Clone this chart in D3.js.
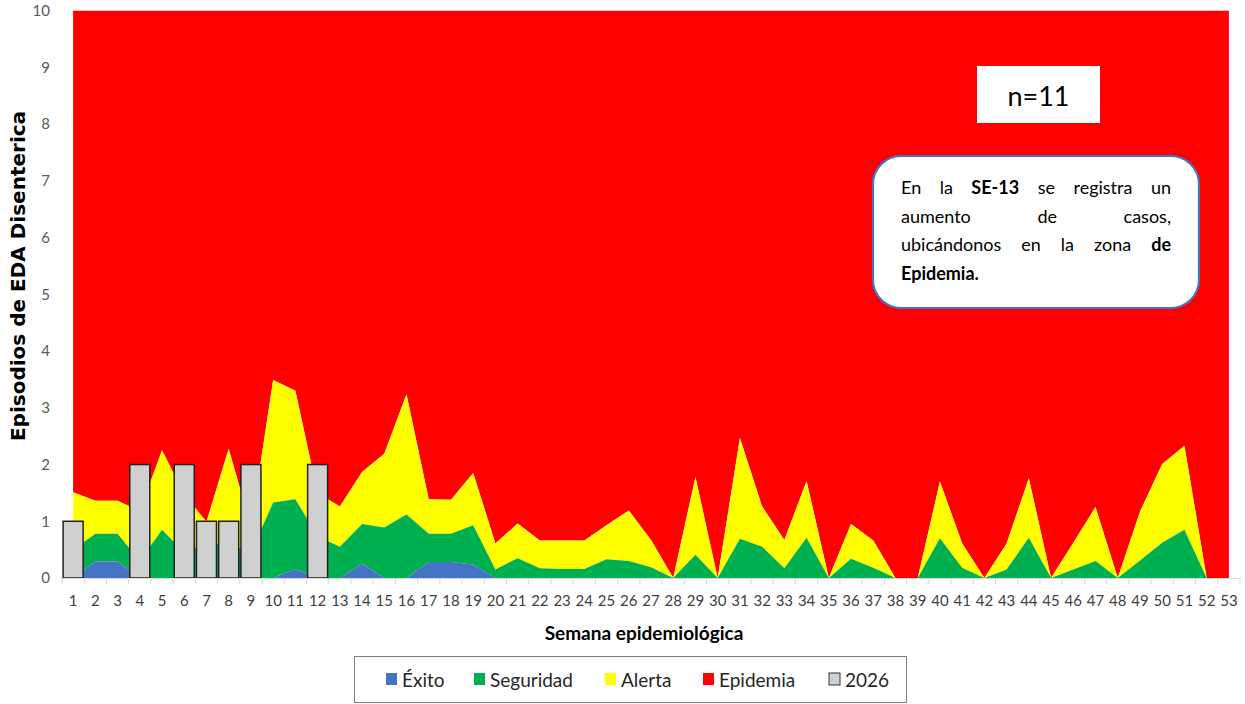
<!DOCTYPE html>
<html><head><meta charset="utf-8">
<script src="https://cdn.jsdelivr.net/npm/d3@7"></script>
<style>body{margin:0;background:#fff} svg{display:block}</style>
</head><body>
<svg id="chart" width="1245" height="704"></svg>
<script>
// ---- data ----
const weeks = [1,2,3,4,5,6,7,8,9,10,11,12,13,14,15,16,17,18,19,20,21,22,23,24,25,26,27,28,29,30,31,32,33,34,35,36,37,38,39,40,41,42,43,44,45,46,47,48,49,50,51,52,53];
// upper limit of each zone (episodes)
const exito =     [0,0.29,0.29,0,0,0,0,0,0,0,0.16,0,0,0.25,0,0,0.28,0.28,0.24,0,0,0,0,0,0,0,0,0,0,0,0,0,0,0,0,0,0,0,0,0,0,0,0,0,0,0,0,0,0,0,0,0,0];
const seguridad = [0.5,0.78,0.78,0.3,0.85,0.45,0.6,0.6,0.45,1.33,1.39,0.73,0.55,0.95,0.89,1.12,0.78,0.78,0.93,0.15,0.35,0.17,0.16,0.16,0.33,0.3,0.19,0,0.41,0,0.69,0.55,0.17,0.71,0,0.34,0.18,0,0,0.7,0.18,0,0.15,0.71,0,0.15,0.3,0,0.31,0.62,0.85,0,0];
const alerta =    [1.51,1.36,1.36,1.18,2.25,1.47,0.99,2.28,0.9,3.49,3.3,1.5,1.26,1.87,2.19,3.24,1.39,1.38,1.85,0.61,0.96,0.66,0.66,0.66,0.93,1.19,0.67,0,1.78,0,2.47,1.26,0.67,1.71,0,0.95,0.66,0,0,1.7,0.61,0,0.61,1.76,0,0.62,1.25,0,1.17,2.01,2.33,0,0];
const epidemia =  [10,10,10,10,10,10,10,10,10,10,10,10,10,10,10,10,10,10,10,10,10,10,10,10,10,10,10,10,10,10,10,10,10,10,10,10,10,10,10,10,10,10,10,10,10,10,10,10,10,10,10,10,10];
const casos2026 = [1,0,0,2,0,2,1,1,2,0,0,2,null,null,null,null,null,null,null,null,null,null,null,null,null,null,null,null,null,null,null,null,null,null,null,null,null,null,null,null,null,null,null,null,null,null,null,null,null,null,null,null,null];
const yTicks = [0,1,2,3,4,5,6,7,8,9,10];
const legendItems = ["Éxito","Seguridad","Alerta","Epidemia","2026"];
const colors = {"Éxito":"#4472c4","Seguridad":"#00b050","Alerta":"#ffff00","Epidemia":"#ff0000","2026":"#d0d0d0"};

const svg = d3.select("#chart");
const FONT = "Lato, 'Open Sans', sans-serif";

const y = d3.scaleLinear().domain([0,10]).range([578,10.7]);
const xBand = d3.scaleBand().domain(weeks).range([62,1240]).paddingInner(0.1).paddingOuter(0.05);
const xPt = w => xBand(w) + xBand.bandwidth()/2;

// zones (stacked boundaries)
const zones = [
  {name:"Epidemia", top:epidemia, bottom:alerta},
  {name:"Alerta", top:alerta, bottom:seguridad},
  {name:"Seguridad", top:seguridad, bottom:exito},
  {name:"Éxito", top:exito, bottom:weeks.map(()=>0)}
];
const g = svg.append("g");
zones.forEach(z => {
  const area = d3.area()
    .x((d,i)=>xPt(weeks[i]))
    .y0((d,i)=>y(z.bottom[i]))
    .y1((d,i)=>y(z.top[i]));
  g.append("path").datum(weeks).attr("d", area).attr("fill", colors[z.name]);
});

// bars 2026
const barData = weeks.map((w,i)=>({w, v:casos2026[i]})).filter(d=>d.v);
g.selectAll("rect.bar").data(barData).join("rect")
  .attr("class","bar")
  .attr("x", d=>xBand(d.w)).attr("width", xBand.bandwidth())
  .attr("y", d=>y(d.v)).attr("height", d=>y(0)-y(d.v))
  .attr("fill", colors["2026"]).attr("stroke","#222").attr("stroke-width",1.5);

// x axis
const xAxis = svg.append("g").attr("transform","translate(0,578)")
  .call(d3.axisBottom(xBand).tickSize(0).tickPadding(17));
xAxis.select(".domain").attr("stroke","#d9d9d9");
xAxis.selectAll("text").attr("font-family",FONT).attr("font-size",15).attr("fill","#404040");
const bounds = weeks.map(w=>xBand(w) - xBand.step()*xBand.paddingInner()/2).concat([1240]);
xAxis.selectAll("line.tk").data(bounds).join("line").attr("class","tk")
  .attr("x1",d=>d).attr("x2",d=>d).attr("y1",0).attr("y2",6).attr("stroke","#d9d9d9");

// y axis
const yAxis = svg.append("g").attr("transform","translate(73,0)")
  .call(d3.axisLeft(y).tickValues(yTicks).tickSize(0).tickPadding(23));
yAxis.select(".domain").remove();
yAxis.selectAll("text").attr("font-family",FONT).attr("font-size",15).attr("fill","#595959");

// axis titles
svg.append("text").attr("transform","translate(25,276) rotate(-90)")
  .attr("text-anchor","middle").attr("font-family","'DejaVu Sans', sans-serif")
  .attr("font-weight","bold").attr("font-size",20).attr("fill","#000")
  .text("Episodios de EDA Disenterica");
svg.append("text").attr("x",644).attr("y",640).attr("text-anchor","middle")
  .attr("font-family",FONT).attr("font-weight","bold").attr("font-size",19).attr("fill","#000")
  .text("Semana epidemiológica");

// legend
svg.append("rect").attr("x",354.5).attr("y",656.5).attr("width",552).attr("height",46)
  .attr("fill","#fff").attr("stroke","#7f7f7f");
const legX = [386,474,605,703,829];
legendItems.forEach((name,i)=>{
  svg.append("rect").attr("x",legX[i]).attr("y",673).attr("width",11).attr("height",12)
    .attr("fill",colors[name]).attr("stroke", name==="2026" ? "#333" : "none");
  svg.append("text").attr("x",legX[i]+16).attr("y",687).attr("font-family",FONT)
    .attr("font-size",19).attr("fill","#262626").text(name);
});

// n=11 box
svg.append("rect").attr("x",977).attr("y",66).attr("width",123).attr("height",57).attr("fill","#fff");
svg.append("text").attr("x",1038.5).attr("y",106).attr("text-anchor","middle")
  .attr("font-family",FONT).attr("font-size",27).attr("fill","#000").text("n=11");

// note box
svg.append("rect").attr("x",873).attr("y",156).attr("width",326).attr("height",152)
  .attr("rx",28).attr("ry",28).attr("fill","#fff").attr("stroke","#4472c4").attr("stroke-width",2.2);
const noteLines = [
  {words:[["En",0],["la",0],["SE-13",1],["se",0],["registra",0],["un",0]], justify:true},
  {words:[["aumento",0],["de",0],["casos,",0]], justify:true},
  {words:[["ubicándonos",0],["en",0],["la",0],["zona",0],["de",1]], justify:true},
  {words:[["Epidemia.",1]], justify:false}
];
const left = 901, right = 1171, base0 = 194, lh = 28.5;
noteLines.forEach((ln,li)=>{
  const items = ln.words.map(([w,b])=>{
    const t = svg.append("text").attr("y",base0+li*lh).attr("font-family",FONT)
      .attr("font-size",18).attr("font-weight",b?"bold":"normal").attr("fill","#000").text(w);
    return {t, w:t.node().getComputedTextLength()};
  });
  const total = d3.sum(items,d=>d.w);
  const gap = ln.justify && items.length>1 ? (right-left-total)/(items.length-1) : 5;
  let x = left;
  items.forEach(it=>{ it.t.attr("x",x); x += it.w + gap; });
});
</script>
</body></html>
